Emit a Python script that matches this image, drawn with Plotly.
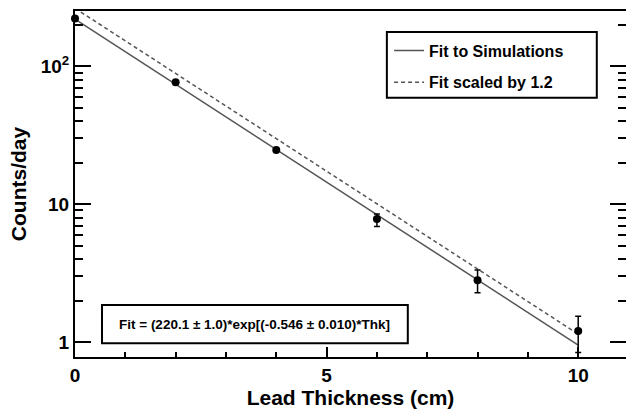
import plotly.graph_objects as go

# Data
thickness = [0, 2, 4, 6, 8, 10]
counts = [223, 76.7, 24.7, 7.8, 2.8, 1.2]
err_plus = [0, 0, 0, 0.7, 0.53, 0.34]
err_minus = [0, 0, 0, 0.9, 0.52, 0.36]

fit_x = [0, 10]
fit_y = [220.1, 0.95]
scaled_y = [264.1, 1.14]

x_ticks = [0, 5, 10]
x_minor = [1, 2, 3, 4, 6, 7, 8, 9]
y_ticks = [1, 10, 100]
y_ticktext = ["<b>1</b>", "<b>10</b>", "<b>10<sup>2</sup></b>"]
y_minor = [2, 3, 4, 5, 6, 7, 8, 9, 20, 30, 40, 50, 60, 70, 80, 90, 200]

fit_text = "Fit = (220.1 ± 1.0)*exp[(-0.546 ± 0.010)*Thk]"

FONT = "Liberation Sans"
LINE_GRAY = "#555555"

fig = go.Figure()

fig.add_trace(go.Scatter(
    x=fit_x, y=fit_y, mode="lines", name="<b>Fit to Simulations</b>",
    line=dict(color=LINE_GRAY, width=1.5), legendgroup="a",
))
fig.add_trace(go.Scatter(
    x=fit_x, y=scaled_y, mode="lines", name="<b>Fit scaled by 1.2</b>",
    line=dict(color=LINE_GRAY, width=1.5, dash="4px,3px"), legendgroup="b",
))
fig.add_trace(go.Scatter(
    x=thickness, y=counts, mode="markers", showlegend=False,
    marker=dict(color="black", size=8),
    error_y=dict(type="data", symmetric=False, array=err_plus, arrayminus=err_minus,
                 color="black", thickness=1.5, width=3),
    cliponaxis=False,
))

# legend frame
fig.add_shape(type="rect", xref="paper", yref="paper",
              x0=0.566, x1=0.947, y0=0.749, y1=0.939,
              line=dict(color="black", width=2), fillcolor="rgba(0,0,0,0)",
              layer="above")

# fit formula box
fig.add_shape(type="rect", xref="paper", yref="paper",
              x0=0.049, x1=0.604, y0=0.040, y1=0.150,
              line=dict(color="black", width=2), fillcolor="white", layer="above")
fig.add_annotation(xref="paper", yref="paper", x=0.3265, y=0.095,
                   xanchor="center", yanchor="middle",
                   text="<b>" + fit_text + "</b>", showarrow=False,
                   font=dict(family=FONT, size=13.5, color="black"))

fig.update_layout(
    width=626, height=418,
    margin=dict(l=75, r=0, t=11, b=61),
    paper_bgcolor="white", plot_bgcolor="white",
    font=dict(family=FONT, color="black"),
    legend=dict(x=0.570, y=0.935, xanchor="left", yanchor="top",
                borderwidth=0, bordercolor="rgba(0,0,0,0)", bgcolor="rgba(0,0,0,0)",
                font=dict(family=FONT, size=16),
                traceorder="grouped", tracegroupgap=8),
    xaxis=dict(
        range=[0, 10.95], showgrid=False, zeroline=False, automargin=False,
        showline=True, linecolor="black", linewidth=2, mirror=True,
        ticks="inside", ticklen=10, tickwidth=1.5, tickcolor="black",
        tickvals=x_ticks, ticktext=["<b>%d</b>" % v for v in x_ticks],
        tickfont=dict(family=FONT, size=19),
        minor=dict(tickvals=x_minor, ticks="inside", ticklen=5, tickwidth=1.5,
                   tickcolor="black", showgrid=False),
        title=dict(text="<b>Lead Thickness (cm)</b>", standoff=6,
                   font=dict(family=FONT, size=21)),
    ),
    yaxis=dict(
        type="log", range=[-0.109, 2.402], showgrid=False, zeroline=False,
        automargin=False,
        showline=True, linecolor="black", linewidth=2, mirror="ticks",
        ticks="inside", ticklen=16, tickwidth=2, tickcolor="black",
        tickvals=y_ticks, ticktext=y_ticktext,
        tickfont=dict(family=FONT, size=19),
        minor=dict(tickvals=y_minor, ticks="inside", ticklen=8, tickwidth=1.5,
                   tickcolor="black", showgrid=False),
        title=dict(text="<b>Counts/day</b>", standoff=8,
                   font=dict(family=FONT, size=21)),
    ),
)

fig.write_html("out.html",
               config={"displayModeBar": False},
               post_script="document.body.style.margin='0px';document.body.style.padding='0px';")
